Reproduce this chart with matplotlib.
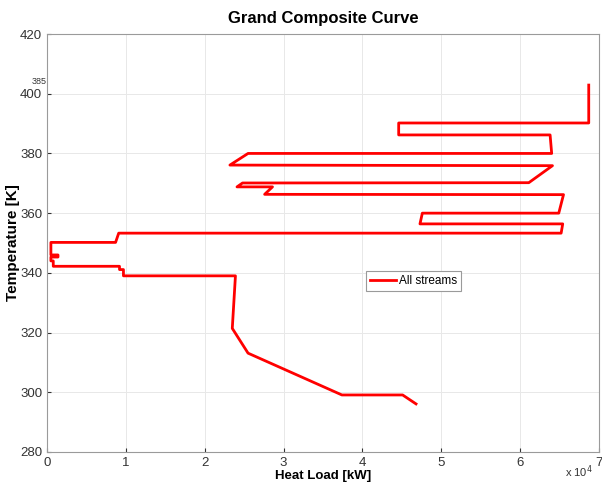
"""Grand composite curve (heat load vs temperature), MATLAB-style look."""

import matplotlib

matplotlib.use("Agg")
import matplotlib.pyplot as plt  # noqa: E402

plt.rcParams["font.family"] = ["Liberation Sans", "DejaVu Sans"]

# path of the curve, heat load in kW and temperature in K
heat_load_kw = [
    68700, 68700, 44600, 44600, 63800, 64000, 25500, 23200, 64100, 61100,
    24800, 24100, 28600, 27600, 65500, 64900, 47600, 47300, 65400, 65200,
    9100, 8700, 500, 500, 1400, 1400, 500, 500, 800, 800,
    9200, 9200, 9700, 9700, 23900, 23500, 25500, 37400, 45100, 46800,
]
temperature_k = [
    402.9, 390.2, 390.2, 386.2, 386.2, 380.0, 380.0, 376.1, 375.9, 370.2,
    370.1, 368.8, 368.8, 366.3, 366.2, 360.0, 360.0, 356.4, 356.4, 353.3,
    353.3, 350.2, 350.2, 346.0, 346.0, 345.3, 345.3, 344.0, 344.0, 342.2,
    342.2, 341.1, 341.1, 339.0, 339.0, 321.4, 313.1, 299.1, 299.1, 296.1,
]

x_ticks = [0, 1, 2, 3, 4, 5, 6, 7]
y_ticks = [280, 300, 320, 340, 360, 380, 400, 420]

fig = plt.figure(figsize=(6.02, 4.86), dpi=100)
ax = fig.add_axes([0.078, 0.070, 0.917, 0.860])

ax.plot([q / 1e4 for q in heat_load_kw], temperature_k, color="#ff0000",
        linewidth=2.0, label="All streams")

ax.set_xlim(0, 7)
ax.set_ylim(280, 420)
ax.set_xticks(x_ticks)
ax.set_yticks(y_ticks)
ax.grid(True, color="#e8e8e8", linewidth=0.7)
ax.tick_params(direction="in", length=3, labelsize=9.5, colors="#333333")
for side in ("left", "bottom", "top", "right"):
    ax.spines[side].set_color("#9a9a9a")

ax.set_title("Grand Composite Curve", fontsize=12, fontweight="bold", pad=8)
ax.set_xlabel("Heat Load [kW]", fontsize=9.5, fontweight="bold", labelpad=1)
ax.set_ylabel("Temperature [K]", fontsize=11, fontweight="bold", labelpad=0)

fig.text(0.985, 0.012, r"x 10$^4$", fontsize=8, ha="right", va="bottom", color="#333333")
fig.text(0.052, 0.833, "385", fontsize=6.5, ha="left", va="center", color="#333333")

leg = ax.legend(loc="center", bbox_to_anchor=(0.664, 0.409), fontsize=8.5,
                fancybox=False, framealpha=1, edgecolor="#9a9a9a",
                handlelength=2.2, handletextpad=0.3, borderpad=0.35)
leg.get_frame().set_linewidth(0.8)

fig.savefig("out.png", dpi=100)
